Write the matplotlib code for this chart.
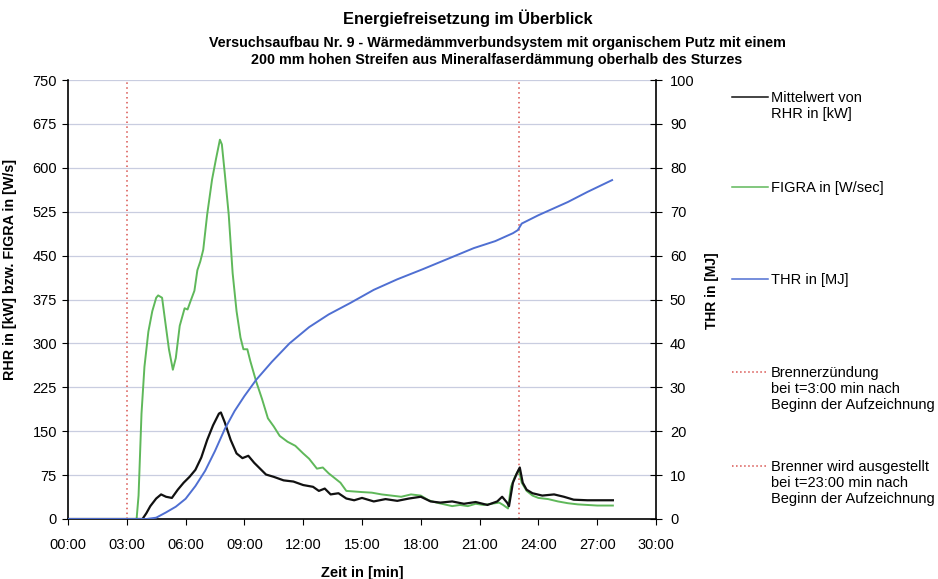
import numpy as np
import matplotlib
matplotlib.use("Agg")
import matplotlib.pyplot as plt
from matplotlib.lines import Line2D

plt.rcParams['font.family'] = ['Liberation Sans', 'DejaVu Sans']

t_figra = [0, 3.5, 3.6, 3.75, 3.9, 4.1, 4.3, 4.5, 4.6, 4.7, 4.8, 4.95, 5.15, 5.35,
           5.5, 5.7, 5.95, 6.1, 6.25, 6.45, 6.6, 6.75, 6.9, 7.1, 7.35, 7.55, 7.75,
           7.85, 8.0, 8.2, 8.4, 8.6, 8.8, 8.95, 9.15, 9.3, 9.6, 9.9, 10.2, 10.5,
           10.8, 11.2, 11.6, 12.0, 12.3, 12.7, 13.0, 13.3, 13.6, 13.9, 14.2, 14.6,
           15.0, 15.5, 16.0, 16.5, 17.0, 17.5, 18.0, 18.4, 18.8, 19.2, 19.6, 20.0,
           20.4, 20.8, 21.2, 21.6, 22.0, 22.2, 22.45, 22.6, 22.8, 23.0, 23.15, 23.4,
           23.7, 24.0, 24.5, 25.0, 25.5, 26.0, 26.5, 27.0, 27.8]
figra = [0, 0, 40, 180, 260, 320, 355, 378, 382, 380, 378, 340, 290, 255,
         275, 330, 360, 358, 372, 390, 425, 440, 460, 520, 580, 615, 648,
         640, 590, 520, 420, 355, 310, 290, 290, 270, 235, 205, 172, 158,
         142, 132, 125, 112, 103, 86, 88, 78, 70, 62, 48, 47,
         46, 45, 42, 40, 38, 42, 40, 32, 28, 25, 22, 24,
         22, 26, 24, 26, 28, 24, 18, 55, 72, 84, 62, 48,
         40, 36, 34, 30, 27, 25, 24, 23, 23]

t_rhr = [0, 3.8, 4.0, 4.2, 4.5, 4.75, 5.0, 5.3, 5.6, 5.9, 6.2, 6.5, 6.8, 7.1, 7.4,
         7.7, 7.8, 8.0, 8.3, 8.6, 8.9, 9.2, 9.5, 9.8, 10.1, 10.5, 11.0, 11.5, 12.0,
         12.5, 12.8, 13.1, 13.4, 13.8, 14.2, 14.6, 15.0, 15.6, 16.2, 16.8, 17.4,
         18.0, 18.5, 19.0, 19.6, 20.2, 20.8, 21.4, 21.9, 22.15, 22.4, 22.5, 22.7,
         22.9, 23.05, 23.2, 23.4, 23.7, 24.2, 24.8, 25.3, 25.8, 26.5, 27.8]
rhr = [0, 0, 10, 22, 35, 42, 38, 36, 50, 62, 72, 84, 105, 135, 160,
       180, 182, 165, 135, 112, 104, 108, 96, 86, 76, 72, 66, 64, 58,
       55, 48, 52, 42, 44, 35, 32, 36, 30, 34, 31, 35,
       38, 30, 28, 30, 26, 29, 24, 30, 38, 28, 22, 62,
       78, 88, 62, 50, 44, 40, 42, 38, 33, 32, 32]

t_thr = [0, 4.0, 4.5, 5.0, 5.5, 6.0, 6.5, 7.0, 7.5, 8.0, 8.5, 9.0, 9.6, 10.4,
         11.3, 12.3, 13.3, 14.4, 15.6, 16.8, 18.1, 19.4, 20.7, 21.8, 22.7, 22.95,
         23.15, 24.0, 25.5, 26.5, 27.76]
thr = [0, 0, 0.3, 1.5, 2.8, 4.6, 7.5, 11, 15.5, 20.5, 24.6, 28, 31.7, 35.8,
       40, 43.7, 46.6, 49.2, 52.2, 54.6, 56.9, 59.3, 61.7, 63.3, 65.1, 65.8,
       67.3, 69.2, 72.2, 74.5, 77.2]

brenner_an = 3.0
brenner_aus = 23.0

x_ticks = [0, 3, 6, 9, 12, 15, 18, 21, 24, 27, 30]
x_labels = ['%02d:00' % m for m in x_ticks]
y_left_ticks = list(range(0, 751, 75))
y_right_ticks = list(range(0, 101, 10))

col_rhr = '#111111'
col_figra = '#5fb85a'
col_thr = '#4f6fd2'
col_red = '#d9534f'

fig = plt.figure(figsize=(9.38, 5.79), dpi=100)
ax = fig.add_axes([68 / 938, 60 / 579, 588 / 938, 439 / 579])
ax2 = ax.twinx()

ax.set_xlim(0, 30)
ax.set_ylim(0, 750)
ax2.set_ylim(0, 100)

for y in y_left_ticks[1:]:
    ax.axhline(y, color='#c9cde0', lw=0.9, zorder=0)

ax.axvline(brenner_an, color=col_red, lw=1.1, ls=(0, (1, 2.2)), zorder=1)
ax.axvline(brenner_aus, color=col_red, lw=1.1, ls=(0, (1, 2.2)), zorder=1)

ax.plot(t_figra, figra, color=col_figra, lw=1.4, zorder=3)
ax.plot(t_rhr, rhr, color=col_rhr, lw=1.6, zorder=4)
ax2.plot(t_thr, thr, color=col_thr, lw=1.4, zorder=3)

for a in (ax, ax2):
    a.spines['top'].set_visible(False)
ax.spines['right'].set_visible(False)
ax2.spines['left'].set_visible(False)
ax2.spines['bottom'].set_visible(False)
ax.spines['left'].set_linewidth(1.2)
ax.spines['bottom'].set_linewidth(1.2)
ax2.spines['right'].set_linewidth(1.2)

ax.set_xticks(x_ticks)
ax.set_xticklabels(x_labels, fontsize=10.5)
ax.set_yticks(y_left_ticks)
ax.set_yticklabels([str(v) for v in y_left_ticks], fontsize=10.5)
ax2.set_yticks(y_right_ticks)
ax2.set_yticklabels([str(v) for v in y_right_ticks], fontsize=10.5)
ax.tick_params(axis='x', direction='out', length=4, pad=10)
ax.tick_params(axis='y', direction='out', length=4, pad=4)
ax2.tick_params(axis='y', direction='inout', length=8, pad=6)

ax.set_xlabel('Zeit in [min]', fontsize=10.5, fontweight='bold', labelpad=10)
ax.set_ylabel('RHR in [kW] bzw. FIGRA in [W/s]', fontsize=10.3, fontweight='bold')
ax.yaxis.set_label_coords(-0.087, 0.569)
ax2.set_ylabel('THR in [MJ]', fontsize=10, fontweight='bold')
ax2.yaxis.set_label_coords(1.083, 0.519)

fig.text(468 / 938, 1 - 18 / 579, 'Energiefreisetzung im Überblick',
         ha='center', va='center', fontsize=11.8, fontweight='bold')
fig.text(497 / 938, 1 - 43 / 579,
         'Versuchsaufbau Nr. 9 - Wärmedämmverbundsystem mit organischem Putz mit einem',
         ha='center', va='center', fontsize=10.3, fontweight='bold')
fig.text(497 / 938, 1 - 60 / 579,
         '200 mm hohen Streifen aus Mineralfaserdämmung oberhalb des Sturzes',
         ha='center', va='center', fontsize=10.3, fontweight='bold')

# Legende rechts neben dem Diagramm
legend_items = [
    (97, 'Mittelwert von\nRHR in [kW]', col_rhr, '-'),
    (187, 'FIGRA in [W/sec]', col_figra, '-'),
    (279, 'THR in [MJ]', col_thr, '-'),
    (372, 'Brennerzündung\nbei t=3:00 min nach\nBeginn der Aufzeichnung', col_red, ':'),
    (466, 'Brenner wird ausgestellt\nbei t=23:00 min nach\nBeginn der Aufzeichnung', col_red, ':'),
]
for y_px, text, color, ls in legend_items:
    yf = 1 - y_px / 579
    fig.add_artist(Line2D([732 / 938, 768 / 938], [yf, yf], color=color, lw=1.1,
                          ls=ls, transform=fig.transFigure))
    fig.text(771 / 938, yf + 6 / 579, text, ha='left', va='top', fontsize=10.5,
             linespacing=1.2)

fig.savefig('out.png', dpi=100)
